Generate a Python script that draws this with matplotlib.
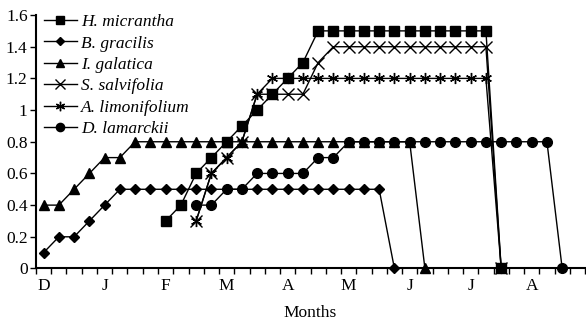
import numpy as np
import matplotlib
matplotlib.use("Agg")
import matplotlib.pyplot as plt

# weekly categories, 4 per month, D (Dec) ... A (Aug)
n_weeks = 36
month_labels = ['D', 'J', 'F', 'M', 'A', 'M', 'J', 'J', 'A']
month_pos = [0, 4, 8, 12, 16, 20, 24, 28, 32]

# each series: first week index and its values
h_micrantha_start = 8
h_micrantha = [0.3, 0.4, 0.6, 0.7, 0.8, 0.9, 1.0, 1.1, 1.2, 1.3,
               1.5, 1.5, 1.5, 1.5, 1.5, 1.5, 1.5, 1.5, 1.5, 1.5, 1.5, 1.5, 0]

b_gracilis_start = 0
b_gracilis = [0.1, 0.2, 0.2, 0.3, 0.4, 0.5, 0.5, 0.5, 0.5, 0.5, 0.5, 0.5,
              0.5, 0.5, 0.5, 0.5, 0.5, 0.5, 0.5, 0.5, 0.5, 0.5, 0.5, 0]

i_galatica_start = 0
i_galatica = [0.4, 0.4, 0.5, 0.6, 0.7, 0.7, 0.8, 0.8, 0.8, 0.8, 0.8, 0.8, 0.8,
              0.8, 0.8, 0.8, 0.8, 0.8, 0.8, 0.8, 0.8, 0.8, 0.8, 0.8, 0.8, 0]

s_salvifolia_start = 10
s_salvifolia = [0.3, 0.6, 0.7, 0.8, 1.1, 1.1, 1.1, 1.1, 1.3, 1.4,
                1.4, 1.4, 1.4, 1.4, 1.4, 1.4, 1.4, 1.4, 1.4, 1.4, 0]

a_limonifolium_start = 10
a_limonifolium = [0.3, 0.6, 0.7, 0.8, 1.1, 1.2, 1.2, 1.2, 1.2, 1.2,
                  1.2, 1.2, 1.2, 1.2, 1.2, 1.2, 1.2, 1.2, 1.2, 1.2, 0]

d_lamarckii_start = 10
d_lamarckii = [0.4, 0.4, 0.5, 0.5, 0.6, 0.6, 0.6, 0.6, 0.7, 0.7,
               0.8, 0.8, 0.8, 0.8, 0.8, 0.8, 0.8, 0.8, 0.8, 0.8, 0.8, 0.8, 0.8, 0.8, 0]

plt.rcParams['font.family'] = 'Liberation Serif'

fig = plt.figure(figsize=(5.86, 3.2), dpi=100)
ax = fig.add_axes([0.0614, 0.161, 0.937, 0.792])

series = [
    ('H. micrantha', h_micrantha_start, h_micrantha, 's', 7, 'k'),
    ('B. gracilis', b_gracilis_start, b_gracilis, 'D', 5, 'k'),
    ('I. galatica', i_galatica_start, i_galatica, '^', 7, 'k'),
    ('S. salvifolia', s_salvifolia_start, s_salvifolia, 'x', 8, 'none'),
    ('A. limonifolium', a_limonifolium_start, a_limonifolium, (6, 2, 0), 8, 'none'),
    ('D. lamarckii', d_lamarckii_start, d_lamarckii, 'o', 7, 'k'),
]

for name, start, vals, mk, ms, mfc in series:
    x = np.arange(start, start + len(vals))
    ax.plot(x, vals, color='k', lw=1.0, marker=mk, ms=ms,
            mfc=mfc, mec='k', mew=1.0, label=name, clip_on=False)

ax.set_xlim(-0.5, n_weeks - 0.5)
ax.set_ylim(0, 1.6)
ax.set_yticks(np.arange(0, 1.61, 0.2))
ax.set_yticklabels(['0', '0.2', '0.4', '0.6', '0.8', '1', '1.2', '1.4', '1.6'])
ax.set_xticks(np.arange(-0.5, n_weeks, 1.0))
ax.set_xticklabels([])
ax.set_xticks(month_pos, minor=True)
ax.set_xticklabels(month_labels, minor=True)
ax.tick_params(axis='x', which='major', direction='out', length=4, width=1)
ax.tick_params(axis='x', which='minor', length=0, pad=7, labelsize=12.5)
ax.tick_params(axis='y', direction='out', length=4, width=1, labelsize=12.5, pad=2)

for s in ['top', 'right']:
    ax.spines[s].set_visible(False)
ax.spines['left'].set_linewidth(1.5)
ax.spines['bottom'].set_linewidth(1.5)

ax.set_xlabel('Months', fontsize=12.5, labelpad=8)

leg = ax.legend(loc='upper left', bbox_to_anchor=(-0.005, 1.045), frameon=False,
                prop={'style': 'italic', 'size': 12.5}, handlelength=1.9,
                handletextpad=0.25, labelspacing=0.3, borderaxespad=0.2,
                markerscale=0.85)

plt.savefig('out.png', dpi=100)
